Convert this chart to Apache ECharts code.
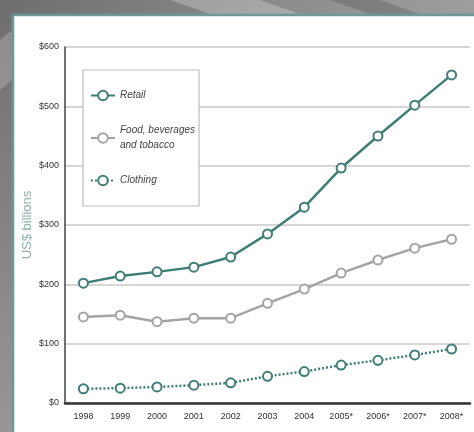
<!DOCTYPE html>
<html>
<head>
<meta charset="utf-8">
<script src="https://cdn.jsdelivr.net/npm/echarts@6/dist/echarts.min.js"></script>
<style>
  html, body { margin: 0; padding: 0; background: #8a8a8a; }
  #chart { width: 474px; height: 432px; }
</style>
</head>
<body>
<div id="chart"></div>
<script>
const years = ["1998", "1999", "2000", "2001", "2002", "2003", "2004", "2005*", "2006*", "2007*", "2008*"];
const retail = [202, 214, 221, 229, 246, 285, 330, 396, 450, 502, 553];
const food = [145, 148, 137, 143, 143, 168, 192, 219, 241, 261, 276];
const clothing = [24, 25, 27, 30, 34, 45, 53, 64, 72, 81, 91];

const TEAL = "#3f7d77";
const GREY = "#a4a4a4";
const narrow = "'Liberation Sans Narrow', 'Liberation Sans', Arial, sans-serif";

const chart = echarts.init(document.getElementById("chart"));

// Build a line series with hollow round markers
function lineSeries(name, data, color, type, width) {
  return {
    name,
    type: "line",
    data,
    symbol: "circle",
    symbolSize: 9,
    itemStyle: { color: "#fff", borderColor: color, borderWidth: 2 },
    lineStyle: { color, width, type },
    emphasis: { disabled: true },
    z: 3
  };
}

const option = {
  animation: false,
  graphic: [
    {
      type: "rect", silent: true, z: -10,
      shape: { x: 0, y: 0, width: 474, height: 432 },
      style: {
        fill: new echarts.graphic.LinearGradient(0, 0, 1, 1, [
          { offset: 0, color: "#6e6e6e" },
          { offset: 0.5, color: "#9a9a9a" },
          { offset: 1, color: "#b8b8b8" }
        ])
      }
    },
    { type: "polygon", silent: true, z: -9, shape: { points: [[170, 0], [260, 0], [300, 14], [210, 14]] }, style: { fill: "rgba(255,255,255,0.25)" } },
    { type: "polygon", silent: true, z: -9, shape: { points: [[330, 0], [380, 0], [420, 14], [370, 14]] }, style: { fill: "rgba(0,0,0,0.15)" } },
    { type: "polygon", silent: true, z: -9, shape: { points: [[0, 40], [12, 30], [12, 80], [0, 90]] }, style: { fill: "rgba(255,255,255,0.2)" } },
    {
      type: "rect", silent: true, z: -8,
      shape: { x: 13, y: 15, width: 470, height: 430 },
      style: { fill: "#ffffff", stroke: "#6d9896", lineWidth: 2.5 }
    }
  ],
  legend: {
    orient: "vertical",
    left: 83,
    top: 70,
    padding: [18, 4, 18, 7],
    itemGap: 20,
    itemWidth: 24,
    itemHeight: 12,
    borderColor: "#bdbdbd",
    borderWidth: 1.2,
    backgroundColor: "#fff",
    selectedMode: false,
    data: ["Retail", "Food, beverages\nand tobacco", "Clothing"],
    textStyle: {
      fontFamily: narrow,
      fontStyle: "italic",
      fontSize: 10,
      lineHeight: 15,
      color: "#444"
    }
  },
  grid: { left: 65, right: 4, top: 47, bottom: 29 },
  xAxis: {
    type: "category",
    data: years,
    boundaryGap: true,
    axisLine: { lineStyle: { color: "#333", width: 2.5 } },
    axisTick: { show: false },
    axisLabel: { fontFamily: narrow, fontSize: 9, color: "#333", margin: 9, interval: 0 }
  },
  yAxis: {
    type: "value",
    min: 0,
    max: 600,
    interval: 100,
    name: "US$ billions",
    nameLocation: "middle",
    nameGap: 31,
    nameMoveOverlap: false,
    nameTextStyle: { fontFamily: "'Liberation Sans', Arial, sans-serif", fontSize: 13, color: "#8fb0ad" },
    axisLine: { show: true, lineStyle: { color: "#444", width: 1.5 } },
    axisTick: { show: false },
    splitLine: { lineStyle: { color: "#c9c9c9", width: 1.5 } },
    axisLabel: {
      fontFamily: narrow, fontSize: 9, color: "#333", margin: 6,
      formatter: (v) => "$" + v
    }
  },
  series: [
    lineSeries("Retail", retail, TEAL, "solid", 2.5),
    lineSeries("Food, beverages\nand tobacco", food, GREY, "solid", 2.5),
    lineSeries("Clothing", clothing, TEAL, [2, 2], 2.5)
  ]
};

chart.setOption(option);
</script>
</body>
</html>
